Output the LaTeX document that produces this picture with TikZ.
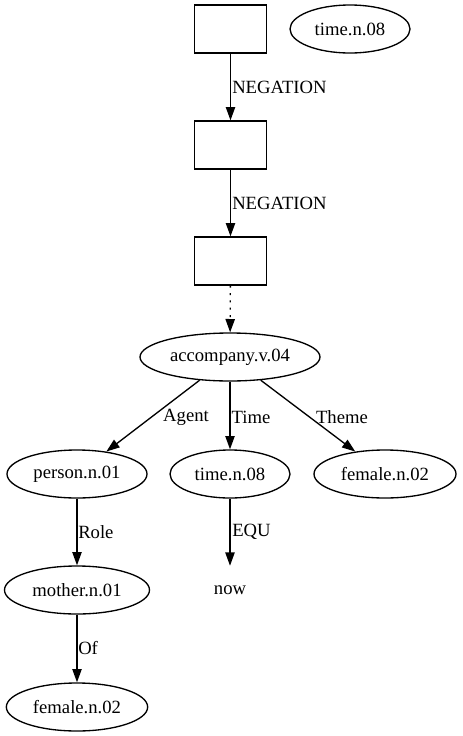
\documentclass[tikz,border=0pt]{standalone}
\usepackage{fontspec}
\setmainfont{Liberation Serif}
\usetikzlibrary{arrows.meta,shapes.geometric}
\begin{document}
\begin{tikzpicture}[x=0.75pt,y=-0.75pt,
  every node/.style={font=\fontsize{14pt}{16pt}\selectfont, inner sep=0pt},
  box/.style={draw, line width=1pt, minimum width=54pt, minimum height=36pt},
  ell/.style={draw, ellipse, line width=1pt, minimum height=36pt, minimum width=#1},
  plain/.style={minimum height=36pt, minimum width=40pt},
  lbl/.style={anchor=base},
  edge/.style={line width=1pt, -{Triangle[length=10pt,width=7pt]}},
  dotedge/.style={edge, dash pattern=on 1.5pt off 4pt},
]
\useasboundingbox (0,0) rectangle (462,736);

% discourse boxes
\node[box] (b1) at (230.5,29) {};
\node[box] (b2) at (230.5,145) {};
\node[box] (b3) at (230.5,261) {};
\node[ell=90pt] (t0) at (350,29) {time.n.08};

% predicate and its arguments
\node[ell=135pt] (acc) at (230,357) {accompany.v.04};
\node[ell=105pt] (per) at (77,474) {person.n.01};
\node[ell=90pt] (tim) at (230,474) {time.n.08};
\node[ell=106.5pt] (fem) at (385,474) {female.n.02};
\node[plain] (now) at (230,590) {now};
\node[ell=108.75pt] (mot) at (77,590) {mother.n.01};
\node[ell=106pt] (fem2) at (77,707) {female.n.02};

% connectors
\draw[edge] (b1) -- (b2);
\draw[edge] (b2) -- (b3);
\draw[dotedge] (b3) -- (acc);
\draw[edge] (acc) -- (per);
\draw[edge] (acc) -- (tim);
\draw[edge] (acc) -- (fem);
\draw[edge] (tim) -- (now);
\draw[edge] (per) -- (mot);
\draw[edge] (mot) -- (fem2);

% edge labels
\node[anchor=west] (l1) at (232,87) {NEGATION};
\node[anchor=west] (l2) at (232,203) {NEGATION};
\node (l3) at (186,417) {Agent};
\node (l4) at (251,417) {Time};
\node (l5) at (342,417) {Theme};
\node[anchor=west] (l6) at (78,532) {Role};
\node[anchor=west] (l7) at (232,532) {EQU};
\node[anchor=west] (l8) at (78,648) {Of};
\end{tikzpicture}
\end{document}
